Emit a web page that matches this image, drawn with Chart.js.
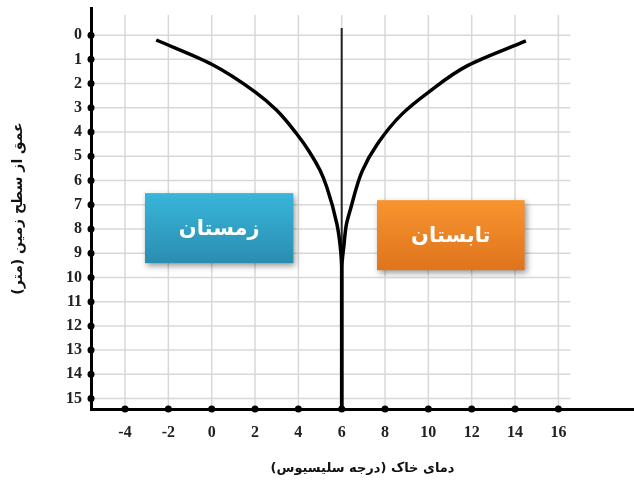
<!DOCTYPE html>
<html>
<head>
<meta charset="utf-8">
<script src="https://cdn.jsdelivr.net/npm/chart.js@4.4.1/dist/chart.umd.min.js"></script>
<style>
  html, body { margin: 0; padding: 0; background: #fff; }
  #wrap { width: 634px; height: 483px; position: relative; }
</style>
</head>
<body>
<div id="wrap"><canvas id="soilChart"></canvas></div>
<script>
// soil temperature (x, °C) against depth below the surface (y, m)
const winterDepth = [0.2, 1.2, 2.34, 3.1, 4.07, 4.8, 5.58, 6.27, 7.8, 8.7, 9.7, 15.43];
const winterTemp  = [-2.56, 0.0, 2.0, 3.0, 3.92, 4.5, 5.0, 5.31, 5.78, 5.93, 6.0, 6.0];
const summerDepth = [0.24, 1.25, 2.36, 3.26, 4.5, 5.6, 7.2, 7.8, 8.7, 9.7, 15.43];
const summerTemp  = [14.5, 11.83, 10.0, 8.78, 7.64, 6.95, 6.4, 6.22, 6.1, 6.0, 6.0];
const meanDepth = [-0.29, 15.43];
const meanTemp  = [6, 6];

const xTicks = [-4, -2, 0, 2, 4, 6, 8, 10, 12, 14, 16];
const yTicks = [0, 1, 2, 3, 4, 5, 6, 7, 8, 9, 10, 11, 12, 13, 14, 15];
const seasonLabels = ['زمستان', 'تابستان'];
const xTitle = 'دمای خاک (درجه سلیسیوس)';
const yTitle = 'عمق از سطح زمین (متر)';

const rtl = s => '\u200F' + s + '\u200F';
const toPoints = (xs, ys) => xs.map((v, i) => ({ x: v, y: ys[i] }));

// light grid, drawn under the axes; stops short of the right edge like the original
const paperPlugin = {
  id: 'paper',
  beforeDraw(chart) {
    const { ctx, chartArea, scales: { x, y } } = chart;
    const top = y.getPixelForValue(-0.83);
    const right = x.getPixelForValue(16.55);
    ctx.save();
    ctx.strokeStyle = '#d8d8d8';
    ctx.lineWidth = 1.5;
    xTicks.forEach(v => {
      const px = x.getPixelForValue(v);
      ctx.beginPath(); ctx.moveTo(px, top); ctx.lineTo(px, chartArea.bottom); ctx.stroke();
    });
    yTicks.forEach(v => {
      const py = y.getPixelForValue(v);
      ctx.beginPath(); ctx.moveTo(chartArea.left, py); ctx.lineTo(right, py); ctx.stroke();
    });
    ctx.restore();
  },
  afterDatasetsDraw(chart) {
    const { ctx, scales: { x, y } } = chart;
    const boxes = [
      { x0: -3.08, x1: 3.77, y0: 6.52, y1: 9.41, c0: '#38b6da', c1: '#2a8db0' },
      { x0: 7.63, x1: 14.44, y0: 6.81, y1: 9.7, c0: '#f8942f', c1: '#df741c' }
    ];
    boxes.forEach((b, i) => {
      const l = x.getPixelForValue(b.x0), r = x.getPixelForValue(b.x1);
      const t = y.getPixelForValue(b.y0), bt = y.getPixelForValue(b.y1);
      ctx.save();
      const g = ctx.createLinearGradient(0, t, 0, bt);
      g.addColorStop(0, b.c0);
      g.addColorStop(1, b.c1);
      ctx.shadowColor = 'rgba(0,0,0,0.4)';
      ctx.shadowBlur = 6;
      ctx.shadowOffsetX = 2;
      ctx.shadowOffsetY = 3;
      ctx.fillStyle = g;
      ctx.fillRect(l, t, r - l, bt - t);
      ctx.restore();
      ctx.save();
      ctx.fillStyle = '#fff';
      ctx.font = 'bold 21px "DejaVu Sans"';
      ctx.textAlign = 'center';
      ctx.textBaseline = 'middle';
      ctx.fillText(rtl(seasonLabels[i]), (l + r) / 2, (t + bt) / 2 + 1);
      ctx.restore();
    });
  },
  afterDraw(chart) {
    const { ctx, chartArea, scales: { x, y } } = chart;
    ctx.save();
    ctx.fillStyle = '#000';
    xTicks.forEach(v => {
      ctx.beginPath(); ctx.arc(x.getPixelForValue(v), chartArea.bottom, 3.5, 0, Math.PI * 2); ctx.fill();
    });
    yTicks.forEach(v => {
      ctx.beginPath(); ctx.arc(chartArea.left, y.getPixelForValue(v), 3.5, 0, Math.PI * 2); ctx.fill();
    });
    ctx.restore();
  }
};

const curve = {
  borderColor: '#000',
  borderWidth: 3.5,
  pointRadius: 0,
  fill: false,
  cubicInterpolationMode: 'monotone'
};

new Chart(document.getElementById('soilChart'), {
  type: 'line',
  data: {
    datasets: [
      { ...curve, label: seasonLabels[0], data: toPoints(winterTemp, winterDepth) },
      { ...curve, label: seasonLabels[1], data: toPoints(summerTemp, summerDepth) },
      { label: 'mean', data: toPoints(meanTemp, meanDepth), borderColor: '#222', borderWidth: 2, pointRadius: 0, tension: 0 }
    ]
  },
  options: {
    indexAxis: 'y',
    responsive: true,
    maintainAspectRatio: false,
    animation: false,
    layout: { padding: { top: 8, right: 0, left: 0, bottom: 0 } },
    plugins: { legend: { display: false }, tooltip: { enabled: false } },
    scales: {
      x: {
        type: 'linear',
        min: -5.57,
        max: 19.49,
        afterBuildTicks: s => { s.ticks = xTicks.map(v => ({ value: v })); },
        afterFit: s => { s.height = 74; s.paddingLeft = 0; s.paddingRight = 0; },
        grid: { display: false, drawTicks: false },
        border: { display: true, color: '#000', width: 3 },
        ticks: { padding: 14, color: '#222', font: { family: '"Liberation Serif"', weight: 'bold', size: 16 } },
        title: {
          display: true,
          text: rtl(xTitle),
          color: '#111',
          padding: { top: 0, bottom: 7 },
          font: { family: '"DejaVu Sans"', weight: 'bold', size: 13 }
        }
      },
      y: {
        type: 'linear',
        reverse: true,
        min: -1.12,
        max: 15.43,
        afterBuildTicks: s => { s.ticks = yTicks.map(v => ({ value: v })); },
        afterFit: s => { s.width = 91; s.paddingTop = 0; s.paddingBottom = 0; },
        grid: { display: false, drawTicks: false },
        border: { display: true, color: '#000', width: 3 },
        ticks: { padding: 9, color: '#222', font: { family: '"Liberation Serif"', weight: 'bold', size: 16 } },
        title: {
          display: true,
          text: rtl(yTitle),
          color: '#111',
          padding: { top: 10, bottom: 0 },
          font: { family: '"DejaVu Sans"', weight: 'bold', size: 14 }
        }
      }
    }
  },
  plugins: [paperPlugin]
});
</script>
</body>
</html>
